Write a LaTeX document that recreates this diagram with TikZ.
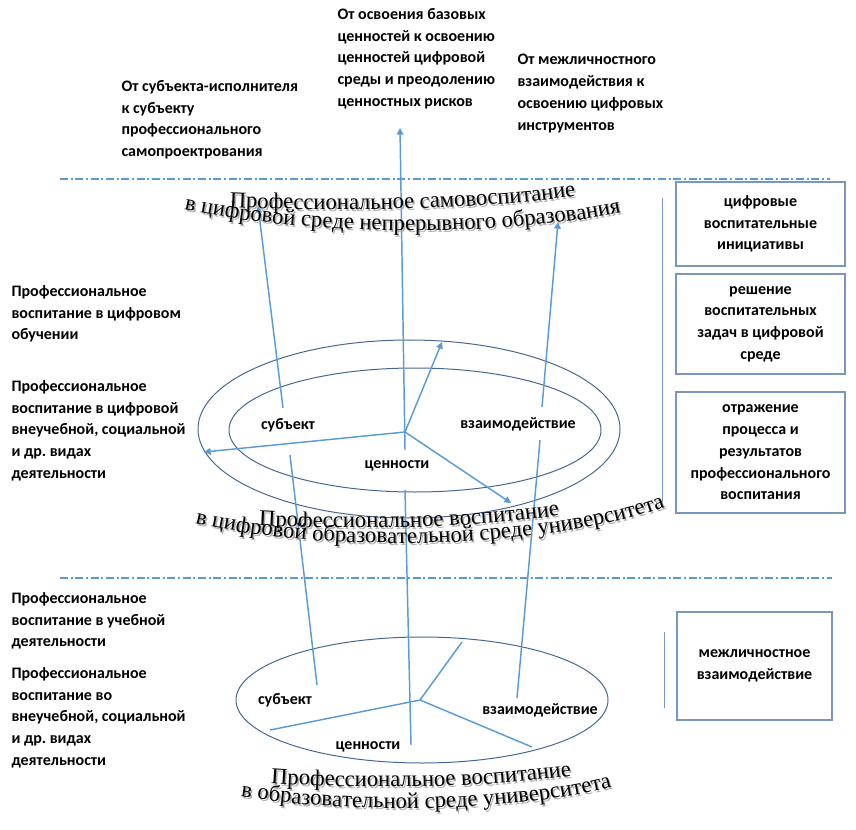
\documentclass[tikz,border=0pt]{standalone}
\usepackage{fontspec}
\setmainfont{Liberation Serif}
\newfontfamily\calibri{Carlito}
\usetikzlibrary{arrows.meta,decorations.text}
\frenchspacing

\definecolor{lineblue}{RGB}{91,155,213}
\definecolor{ovalblue}{RGB}{68,104,150}
\definecolor{boxblue}{RGB}{120,150,190}
\definecolor{shadegray}{RGB}{175,175,175}

\newcommand{\arcfont}{\fontsize{17}{17}\selectfont}

\tikzset{every picture/.style={line width=0.75pt}}
\tikzset{
  lbl/.style={inner sep=0.75pt, font=\calibri\bfseries\fontsize{12}{16.3}\selectfont},
  txt/.style={lbl, anchor=north west, align=left},
  box/.style={draw=boxblue, line width=0.9pt, lbl, align=center},
  link/.style={draw=lineblue, line width=1.1pt},
  arr/.style={link, -{Triangle[width=5pt,length=5pt]}},
  oval/.style={draw=ovalblue, line width=0.75pt},
  sep/.style={draw=lineblue, line width=0.9pt, dash pattern=on 6pt off 2pt on 1.5pt off 2pt},
  bar/.style={draw=boxblue, line width=0.75pt},
  arctext/.style={decorate, decoration={text along path, text align=center, text={|\arcfont|#1}}},
  arcshade/.style={decorate, decoration={text along path, text align=center, text={|\arcfont\color{shadegray}|#1}}}
}

% bent title line with its shadow
\newcommand{\bentline}[2]{%
  \path[arcshade={#2}, shift={(1.5,2)}] #1;
  \path[arctext={#2}] #1;}

\begin{document}
\begin{tikzpicture}[x=0.75pt,y=0.75pt,yscale=-1,xscale=1]
    \useasboundingbox (0,0) rectangle (856,830);

    % Separators
    \draw[sep] (60,179) -- (830,179);
    \draw[sep] (60,578) -- (832,578);

    %Shape: Ellipse (middle level)
    \draw[oval] (409,429) ellipse (211 and 89);
    \draw[oval] (415,430) ellipse (186 and 62);
    %Shape: Ellipse (bottom level)
    \draw[oval] (422,700) ellipse (186 and 63);

    % Text Node - top directions
    \node[txt] (fromSub) at (120,79) {От субъекта-исполнителя\\к субъекту\\профессионального\\самопроектрования};
    \node[txt] (fromVal) at (336,7) {От освоения базовых\\ценностей к освоению\\ценностей цифровой\\среды и преодолению\\ценностных рисков};
    \node[txt] (fromInt) at (516,53) {От межличностного\\взаимодействия к\\освоению цифровых\\инструментов};

    % Text Node - left column
    \node[txt] (digLearn) at (10,284) {Профессиональное\\воспитание в цифровом\\обучении};
    \node[txt] (digExtra) at (10,379) {Профессиональное\\воспитание в цифровой\\внеучебной, социальной\\и др. видах\\деятельности};
    \node[txt] (learn) at (10,591) {Профессиональное\\воспитание в учебной\\деятельности};
    \node[txt] (extra) at (10,666) {Профессиональное\\воспитание во\\внеучебной, социальной\\и др. видах\\деятельности};

    % Boxes - right column
    \node[box, minimum width=126.75pt, minimum height=63pt] (initBox) at (760.5,224) {цифровые\\воспитательные\\инициативы};
    \node[box, minimum width=126.75pt, minimum height=75pt] (taskBox) at (760.5,324) {решение\\воспитательных\\задач в цифровой\\среде};
    \node[box, minimum width=126.75pt, minimum height=90.75pt] (reflBox) at (760.5,452.5) {отражение\\процесса и\\результатов\\профессионального\\воспитания};
    \node[box, minimum width=116.25pt, minimum height=81pt] (persBox) at (754.5,666) {межличностное\\взаимодействие};
    \draw[bar] (662,198) -- (662,503);
    \draw[bar] (664,632) -- (664,708);

    % Text Node - ellipse labels
    \node[lbl] (subM) at (288,425) {субъект};
    \node[lbl] (intM) at (518,424) {взаимодействие};
    \node[lbl] (valM) at (397,466) {ценности};
    \node[lbl] (subB) at (285,700) {субъект};
    \node[lbl] (intB) at (540,710) {взаимодействие};
    \node[lbl] (valB) at (368,747) {ценности};

    % Points
    \coordinate (hubM) at (405,432);
    \coordinate (tipUp) at (442,342);
    \coordinate (tipLeft) at (204,452);
    \coordinate (tipDown) at (511,503);
    \coordinate (hubB) at (420,700);
    \coordinate (endUp) at (462,642);
    \coordinate (endLeft) at (270,730);
    \coordinate (endDown) at (532,747);
    \coordinate (subStart) at (283,408);
    \coordinate (subTop) at (258,206);
    \coordinate (valStart) at (405,450);
    \coordinate (valTop) at (400,128);
    \coordinate (intStart) at (542,407);
    \coordinate (intTop) at (558,222);
    \coordinate (subLow) at (290,455);
    \coordinate (subEnd) at (317,685);
    \coordinate (valLow) at (405,490);
    \coordinate (valEnd) at (411,745);
    \coordinate (intLow) at (540,440);
    \coordinate (intEnd) at (517,698);

    % Arrows from the middle hub
    \draw[arr] (hubM) -- (tipUp);
    \draw[arr] (hubM) -- (tipLeft);
    \draw[arr] (hubM) -- (tipDown);
    % Lines from the bottom hub
    \draw[link] (hubB) -- (endUp);
    \draw[link] (hubB) -- (endLeft);
    \draw[link] (hubB) -- (endDown);
    % Rising lines
    \draw[arr] (subStart) -- (subTop);
    \draw[arr] (valStart) -- (valTop);
    \draw[arr] (intStart) -- (intTop);
    \draw[link] (subLow) -- (subEnd);
    \draw[link] (valLow) -- (valEnd);
    \draw[link] (intLow) -- (intEnd);

    % Bent titles
    \bentline{(205,206) .. controls (320,212) and (485,212) .. (600,192)}{Профессиональное самовоспитание}
    \bentline{(170,206) .. controls (300,238) and (510,238) .. (635,210)}{в цифровой среде непрерывного образования}
    \bentline{(230,524) .. controls (330,531) and (485,530) .. (588,511)}{Профессиональное воспитание}
    \bentline{(195,523) .. controls (320,553) and (540,551) .. (665,507)}{в цифровой образовательной среде университета}
    \bentline{(245,781) .. controls (350,790) and (490,790) .. (597,772)}{Профессиональное воспитание}
    \bentline{(222,793) .. controls (330,815) and (520,815) .. (630,782)}{в образовательной среде университета}

\end{tikzpicture}
\end{document}
